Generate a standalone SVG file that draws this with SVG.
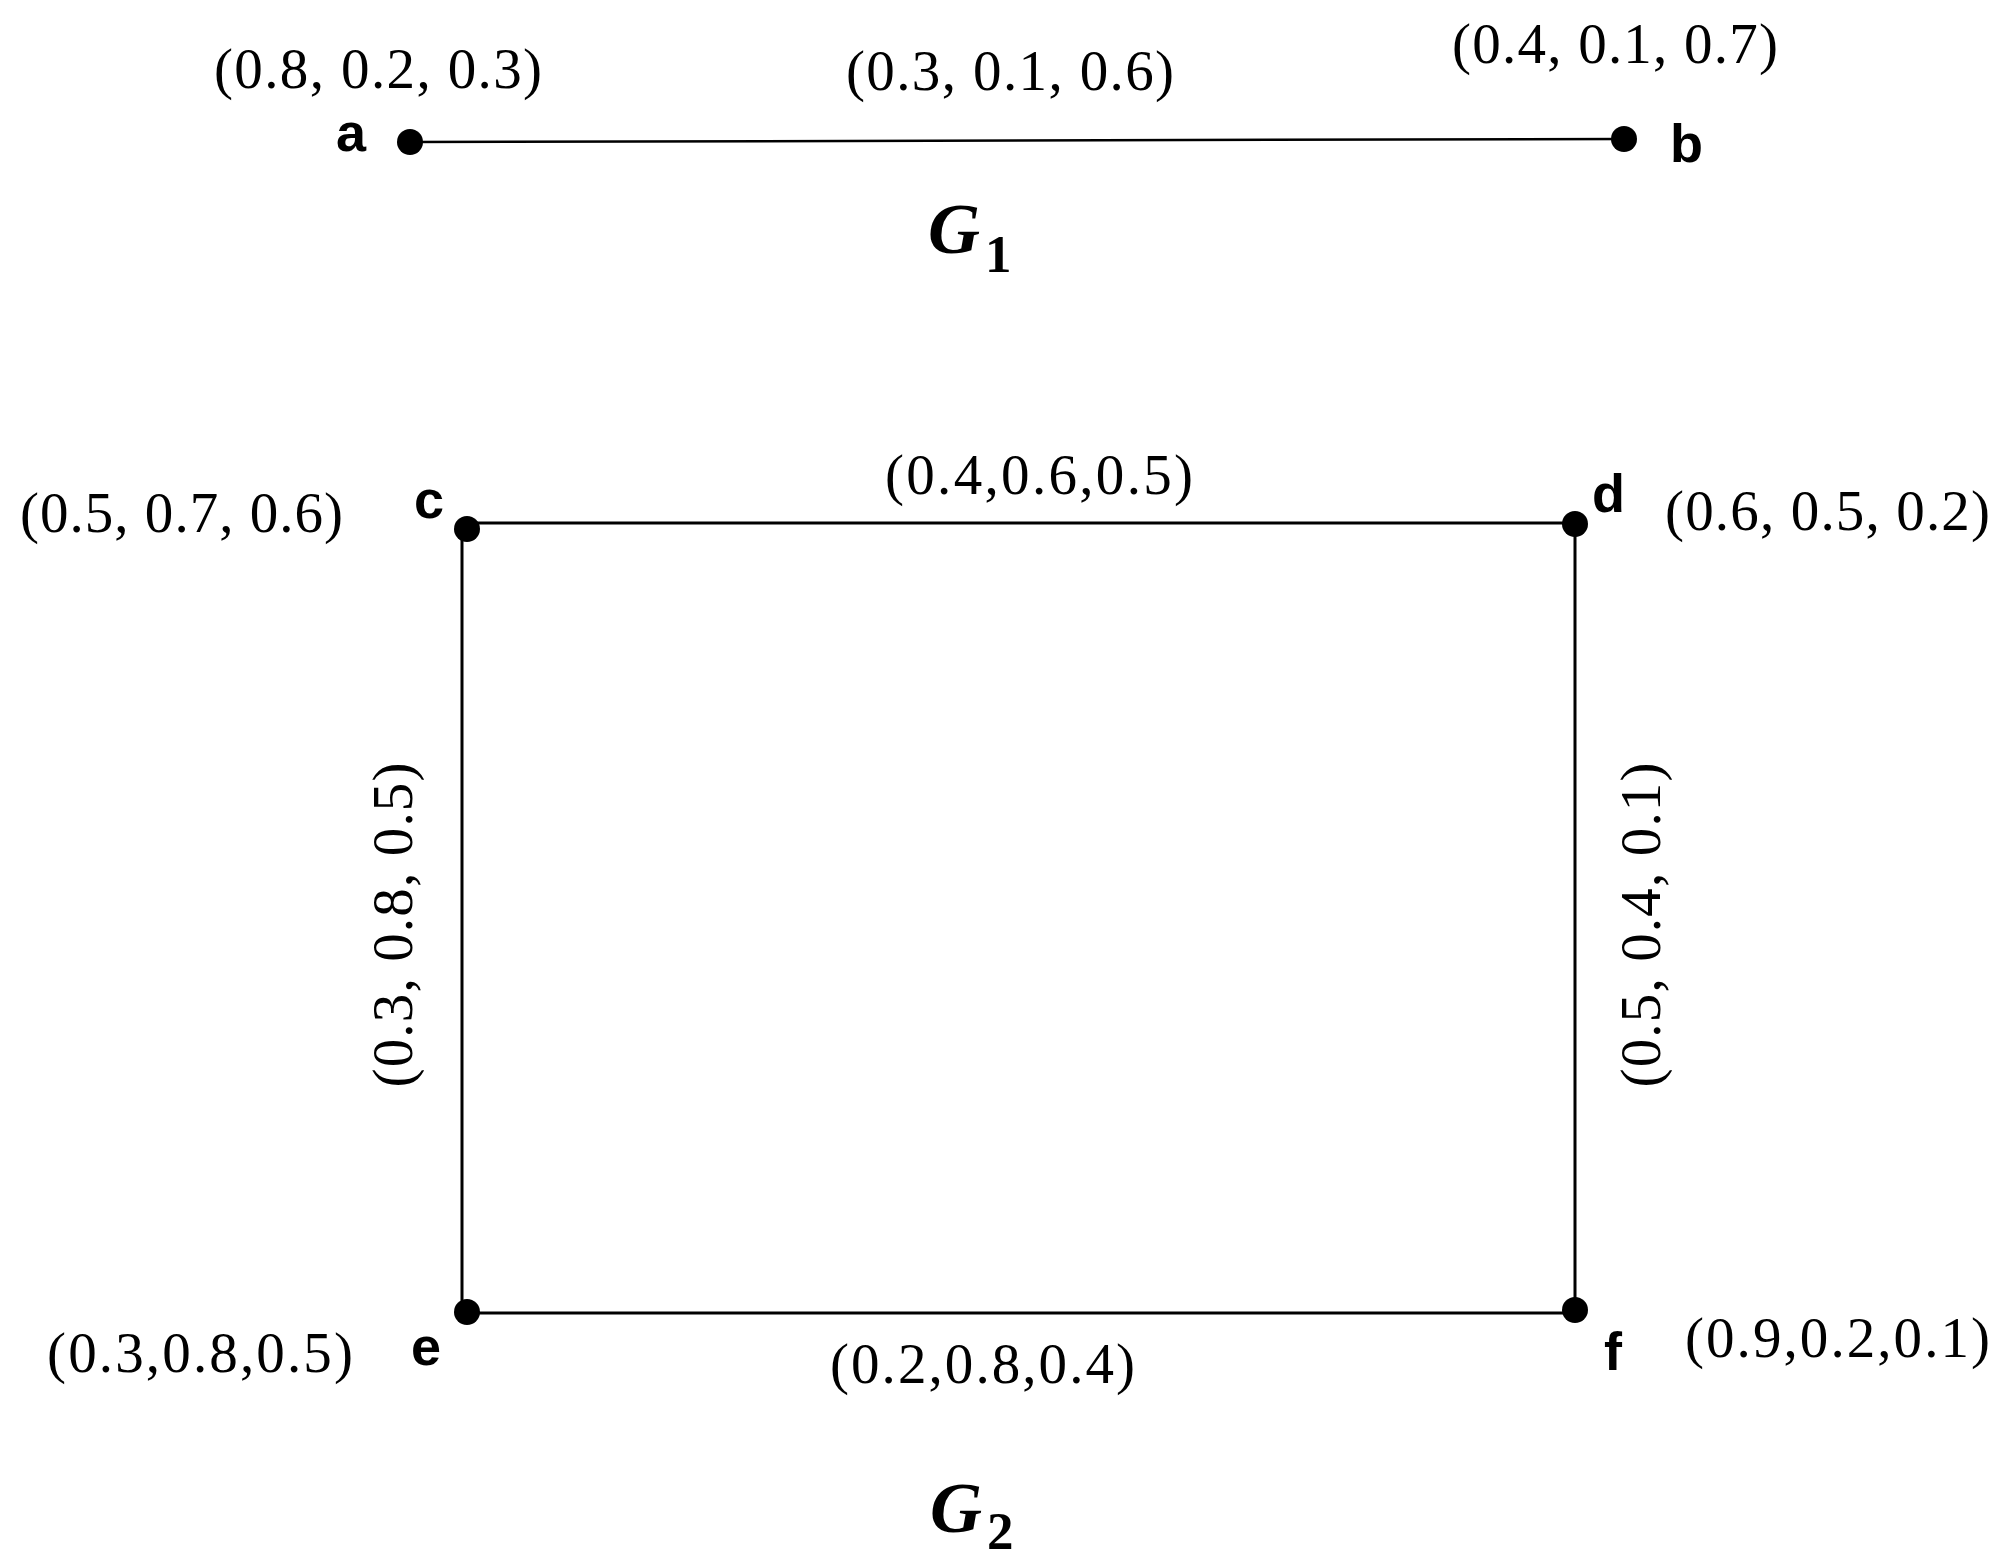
<svg xmlns="http://www.w3.org/2000/svg" width="2011" height="1565" viewBox="0 0 2011 1565">
<style>
.w{font-family:"Liberation Serif","Times New Roman",serif;font-size:57px;fill:#000}
.n{font-family:"Liberation Sans",Arial,sans-serif;font-weight:bold;font-size:54px;fill:#000}
.g{font-family:"Liberation Serif","Times New Roman",serif;font-weight:bold;font-style:italic;font-size:72px;fill:#000}
.gs{font-family:"Liberation Serif","Times New Roman",serif;font-weight:bold;font-size:53px;fill:#000}
.e{stroke:#000;fill:none}
.dot{fill:#000}
</style>
<rect width="2011" height="1565" fill="#fff"/>
<g id="connectors">
<line class="e" x1="410" y1="142" x2="1624" y2="139" stroke-width="2.5"/>
<g id="edge-ab-label"><text class="w" x="846" y="90" textLength="328" lengthAdjust="spacing">(0.3, 0.1, 0.6)</text></g>
<line class="e" x1="462" y1="523" x2="1575" y2="523" stroke-width="3"/>
<line class="e" x1="462" y1="523" x2="462" y2="1313" stroke-width="3"/>
<line class="e" x1="1575" y1="523" x2="1575" y2="1313" stroke-width="3"/>
<line class="e" x1="462" y1="1313" x2="1575" y2="1313" stroke-width="3"/>
<g id="edge-cd-label"><text class="w" x="885" y="494" textLength="308" lengthAdjust="spacing">(0.4,0.6,0.5)</text></g>
<g id="edge-ce-label"><text class="w" transform="translate(412,925) rotate(-90)" text-anchor="middle" textLength="325" lengthAdjust="spacing">(0.3, 0.8, 0.5)</text></g>
<g id="edge-df-label"><text class="w" transform="translate(1660,925) rotate(-90)" text-anchor="middle" textLength="325" lengthAdjust="spacing">(0.5, 0.4, 0.1)</text></g>
<g id="edge-ef-label"><text class="w" x="830" y="1383" textLength="305" lengthAdjust="spacing">(0.2,0.8,0.4)</text></g>
</g>
<g id="node-a">
<circle class="dot" cx="410" cy="142" r="13"/>
<text class="n" x="336" y="151">a</text>
<text class="w" x="214" y="88" textLength="328" lengthAdjust="spacing">(0.8, 0.2, 0.3)</text>
</g>
<g id="node-b">
<circle class="dot" cx="1624" cy="139" r="13"/>
<text class="n" x="1670" y="162">b</text>
<text class="w" x="1452" y="63" textLength="326" lengthAdjust="spacing">(0.4, 0.1, 0.7)</text>
</g>
<g id="title-G1">
<text x="928" y="253"><tspan class="g">G</tspan><tspan class="gs" dx="5" dy="19">1</tspan></text>
</g>
<g id="node-c">
<circle class="dot" cx="467" cy="529" r="13"/>
<text class="n" x="414" y="518">c</text>
<text class="w" x="20" y="532" textLength="323" lengthAdjust="spacing">(0.5, 0.7, 0.6)</text>
</g>
<g id="node-d">
<circle class="dot" cx="1575" cy="524" r="13"/>
<text class="n" x="1592" y="512">d</text>
<text class="w" x="1665" y="530" textLength="325" lengthAdjust="spacing">(0.6, 0.5, 0.2)</text>
</g>
<g id="node-e">
<circle class="dot" cx="467" cy="1312" r="13"/>
<text class="n" x="411" y="1365">e</text>
<text class="w" x="47" y="1372" textLength="306" lengthAdjust="spacing">(0.3,0.8,0.5)</text>
</g>
<g id="node-f">
<circle class="dot" cx="1575" cy="1310" r="13"/>
<text class="n" x="1604" y="1370">f</text>
<text class="w" x="1685" y="1357" textLength="305" lengthAdjust="spacing">(0.9,0.2,0.1)</text>
</g>
<g id="title-G2">
<text x="930" y="1532"><tspan class="g">G</tspan><tspan class="gs" dx="5" dy="17">2</tspan></text>
</g>
</svg>
